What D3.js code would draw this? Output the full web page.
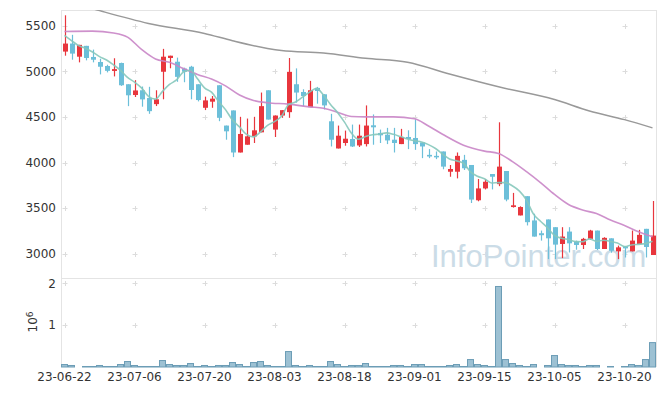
<!DOCTYPE html>
<html>
<head>
<meta charset="utf-8">
<script src="https://cdn.jsdelivr.net/npm/d3@7/dist/d3.min.js"></script>
<style>
body { margin: 0; background: #fff; }
svg { display: block; }
</style>
</head>
<body>
<svg id="chart" width="665" height="396"></svg>
<script>
// trading days
var dates = ["23-06-22","23-06-23","23-06-26","23-06-27","23-06-28","23-06-29","23-06-30",
  "23-07-03","23-07-04","23-07-05","23-07-06","23-07-07","23-07-10","23-07-11","23-07-12","23-07-13","23-07-14",
  "23-07-17","23-07-18","23-07-19","23-07-20","23-07-21","23-07-24","23-07-25","23-07-26","23-07-27","23-07-28","23-07-31",
  "23-08-01","23-08-02","23-08-03","23-08-04","23-08-07","23-08-08","23-08-09","23-08-10","23-08-11",
  "23-08-14","23-08-16","23-08-17","23-08-18","23-08-21","23-08-22","23-08-23","23-08-24","23-08-25",
  "23-08-28","23-08-29","23-08-30","23-08-31","23-09-01","23-09-04","23-09-05","23-09-06","23-09-07","23-09-08",
  "23-09-11","23-09-12","23-09-13","23-09-14","23-09-15","23-09-18","23-09-19","23-09-20","23-09-21","23-09-22",
  "23-09-25","23-09-26","23-09-27","23-10-04","23-10-05","23-10-06","23-10-10","23-10-11","23-10-12","23-10-13",
  "23-10-16","23-10-17","23-10-18","23-10-19","23-10-20","23-10-23","23-10-24","23-10-25","23-10-26"];

var opens = [5216, 5304, 5160, 5279, 5157, 5102, 5058, 5004, 5091, 4858,
  4740, 4792, 4707, 4640, 4995, 5146, 5105, 5030, 5050, 4858,
  4600, 4667, 4847, 4405, 4571, 4110, 4195, 4287, 4331, 4792,
  4361, 4515, 4552, 4858, 4773, 4607, 4818, 4748, 4452, 4154,
  4214, 4258, 4187, 4202, 4408, 4324, 4305, 4250, 4202, 4280,
  4269, 4220, 4084, 4073, 4121, 3899, 3899, 4029, 3973, 3586,
  3716, 3874, 3763, 3907, 3512, 3420, 3631, 3365, 3225, 3376,
  3291, 3107, 3243, 3133, 3096, 3163, 3254, 3052, 3169, 3026,
  3081, 3026, 3107, 3273, 2986];

var highs = [5614, 5400, 5290, 5279, 5238, 5138, 5072, 5143, 5095, 4858,
  4903, 4833, 4830, 4792, 5246, 5171, 5150, 5040, 5060, 4858,
  4722, 4729, 4847, 4405, 4571, 4501, 4482, 4501, 4767, 4792,
  4515, 4574, 5146, 5032, 4803, 4895, 4829, 4748, 4534, 4405,
  4350, 4416, 4416, 4626, 4527, 4361, 4380, 4380, 4369, 4353,
  4471, 4220, 4147, 4121, 4121, 3973, 4110, 4084, 3973, 3819,
  3819, 3874, 4441, 3907, 3667, 3520, 3631, 3439, 3254, 3376,
  3291, 3291, 3291, 3144, 3174, 3262, 3254, 3181, 3169, 3089,
  3081, 3254, 3262, 3273, 3578];

var lows = [5171, 5127, 5098, 5120, 5098, 4966, 4988, 4944, 4840, 4618,
  4718, 4612, 4534, 4619, 4693, 5033, 4885, 4880, 4693, 4670,
  4575, 4600, 4453, 4250, 4059, 4110, 4195, 4214, 4331, 4471,
  4280, 4490, 4490, 4656, 4618, 4607, 4645, 4582, 4176, 4154,
  4184, 4170, 4170, 4176, 4195, 4214, 4202, 4110, 4202, 4147,
  4139, 4048, 4048, 4037, 3926, 3844, 3826, 3918, 3556, 3575,
  3705, 3705, 3741, 3575, 3506, 3420, 3310, 3188, 3144, 2941,
  2941, 2952, 3014, 3044, 3052, 3152, 3041, 3052, 3011, 2941,
  2959, 3026, 3107, 2959, 2986];

var closes = [5304, 5194, 5290, 5146, 5127, 5050, 5005, 5024, 4847, 4737,
  4790, 4692, 4563, 4693, 5160, 5171, 4939, 4995, 4795, 4685,
  4681, 4700, 4490, 4342, 4110, 4313, 4287, 4353, 4618, 4471,
  4515, 4574, 4994, 4767, 4729, 4792, 4784, 4626, 4250, 4294,
  4261, 4176, 4294, 4405, 4386, 4298, 4242, 4214, 4280, 4258,
  4202, 4176, 4066, 4066, 3955, 3929, 4073, 3937, 3594, 3716,
  3789, 3844, 3955, 3594, 3531, 3512, 3346, 3188, 3203, 3169,
  3100, 3188, 3114, 3096, 3163, 3254, 3052, 3174, 3033, 3070,
  3059, 3144, 3207, 3074, 3199];

var volumes = [71000, 48000, 8000, 24000, 24000, 48000, 24000, 24000, 71000, 143000,
  48000, 24000, 24000, 24000, 167000, 71000, 48000, 48000, 95000, 24000,
  48000, 24000, 48000, 48000, 119000, 71000, 24000, 119000, 143000, 48000,
  24000, 24000, 381000, 48000, 24000, 48000, 24000, 24000, 143000, 71000,
  24000, 48000, 48000, 95000, 24000, 24000, 24000, 48000, 48000, 24000,
  71000, 71000, 24000, 24000, 24000, 48000, 71000, 24000, 190000, 71000,
  48000, 24000, 1936000, 190000, 95000, 48000, 24000, 71000, 8000, 48000,
  286000, 71000, 48000, 48000, 24000, 48000, 48000, 8000, 24000, 8000,
  24000, 71000, 48000, 190000, 595000];

// moving averages
var ma5 = [5393, 5337, 5282, 5253, 5212, 5161, 5124, 5070, 5011, 4933,
  4881, 4818, 4726, 4695, 4780, 4856, 4905, 4992, 5012, 4917,
  4819, 4771, 4670, 4580, 4465, 4391, 4308, 4281, 4336, 4408,
  4449, 4506, 4634, 4664, 4716, 4771, 4813, 4740, 4636, 4549,
  4443, 4321, 4255, 4286, 4304, 4312, 4325, 4309, 4284, 4258,
  4239, 4226, 4196, 4154, 4093, 4038, 4018, 3992, 3898, 3850,
  3822, 3776, 3780, 3780, 3743, 3687, 3588, 3434, 3356, 3284,
  3201, 3170, 3155, 3133, 3132, 3163, 3136, 3148, 3135, 3117,
  3078, 3096, 3103, 3111, 3137];

var ma20Idx = [0, 4, 7, 9, 11, 13, 15, 17, 19, 21, 23, 25, 27, 29, 32, 35, 37, 39, 41, 43,
  47, 50, 52, 54, 57, 60, 62, 64, 66, 68, 70, 72, 74, 76, 78, 80, 82, 84];
var ma20 = [5437, 5440, 5420, 5375, 5240, 5135, 5098, 5030, 4965, 4915, 4840, 4740, 4680, 4656, 4640, 4610, 4595, 4552, 4505, 4500,
  4500, 4480, 4400, 4310, 4190, 4125, 4100, 4010, 3900, 3780, 3650, 3540, 3480, 3440, 3370, 3310, 3240, 3185];

var ma60Idx = [0, 5, 12, 20, 24, 29, 31, 37, 43, 49, 55, 62, 70, 75, 80, 84];
var ma60 = [5775, 5665, 5525, 5415, 5335, 5250, 5227, 5200, 5143, 5098, 4970, 4830, 4690, 4565, 4470, 4380];

var priceTicks = [3000, 3500, 4000, 4500, 5000, 5500];
var volTicks = [1e6, 2e6];
var tickDates = ["23-06-22","23-07-06","23-07-20","23-08-03","23-08-18","23-09-01","23-09-15","23-10-05","23-10-20"];

var svg = d3.select("#chart");
var plotLeft = 61, plotRight = 656, plotTop = 10, plotMid = 278, plotBottom = 367;
var upColor = "#e8363d", downColor = "#6cbfd9";
var font = "'DejaVu Sans', Verdana, sans-serif";

var xScale = d3.scaleBand().domain(dates).range([plotLeft, plotRight]);
var cx = function(i) { return xScale(dates[i]) + xScale.bandwidth() / 2; };

var yScale = d3.scaleLinear().domain([2734, 5672]).range([plotMid, plotTop]);
var vScale = d3.scaleLinear().domain([0, 2.127e6]).range([plotBottom, plotMid]);

svg.append("defs").append("clipPath").attr("id", "clipMain")
  .append("rect").attr("x", plotLeft).attr("y", plotTop)
  .attr("width", plotRight - plotLeft).attr("height", plotMid - plotTop);

// frame
var frame = svg.append("g").attr("stroke", "#e4e4e4").attr("stroke-width", 1);
frame.append("line").attr("x1", plotLeft).attr("x2", plotRight).attr("y1", plotTop + 0.5).attr("y2", plotTop + 0.5);
frame.append("line").attr("x1", plotLeft).attr("x2", plotRight).attr("y1", plotMid + 0.5).attr("y2", plotMid + 0.5);
frame.append("line").attr("x1", plotLeft + 0.5).attr("x2", plotLeft + 0.5).attr("y1", plotTop).attr("y2", plotBottom);
frame.append("line").attr("x1", plotRight + 0.5).attr("x2", plotRight + 0.5).attr("y1", plotTop).attr("y2", plotBottom);

// "+" grid marks at tick crossings
var crossY = priceTicks.map(function(d) { return yScale(d); })
  .concat(volTicks.map(function(d) { return vScale(d); }));
var crosses = [];
tickDates.forEach(function(d) {
  crossY.forEach(function(y) { crosses.push({x: xScale(d) + xScale.bandwidth() / 2, y: y}); });
});
var cross = svg.append("g").selectAll(".cross").data(crosses).enter().append("g")
  .attr("class", "cross")
  .attr("transform", function(d) { return "translate(" + Math.round(d.x) + "," + Math.round(d.y) + ")"; })
  .attr("stroke", "#dcdcdc").attr("stroke-width", 1);
cross.append("line").attr("x1", -2.5).attr("x2", 2.5).attr("y1", 0.5).attr("y2", 0.5);
cross.append("line").attr("x1", 0.5).attr("x2", 0.5).attr("y1", -2).attr("y2", 3);

// watermark
svg.append("text")
  .attr("x", 431).attr("y", 267)
  .style("font-family", "'Liberation Sans', Arial, sans-serif")
  .style("font-size", "31px")
  .style("fill", "#cbdce7")
  .text("InfoPointer.com");

// y axis labels
svg.append("g").selectAll("text").data(priceTicks).enter().append("text")
  .attr("x", 56).attr("y", function(d) { return yScale(d); })
  .attr("dy", "0.36em")
  .style("text-anchor", "end")
  .style("font-family", font).style("font-size", "12px").style("fill", "#333")
  .text(function(d) { return d; });

svg.append("g").selectAll("text").data(volTicks).enter().append("text")
  .attr("x", 56).attr("y", function(d) { return vScale(d); })
  .attr("dy", "0.36em")
  .style("text-anchor", "end")
  .style("font-family", font).style("font-size", "12px").style("fill", "#333")
  .text(function(d) { return d / 1e6; });

var unit = svg.append("text")
  .attr("transform", "translate(37,322) rotate(-90)")
  .style("text-anchor", "middle")
  .style("font-family", font).style("font-size", "12px").style("fill", "#333");
unit.append("tspan").text("10");
unit.append("tspan").attr("dy", "-0.5em").style("font-size", "9px").text("6");

// x axis labels
svg.append("g").selectAll("text").data(tickDates).enter().append("text")
  .attr("x", function(d) { return xScale(d) + xScale.bandwidth() / 2; })
  .attr("y", 381)
  .style("text-anchor", "middle")
  .style("font-family", font).style("font-size", "12px").style("fill", "#333")
  .text(function(d) { return d; });

// volume bars
svg.append("g").selectAll(".vol").data(volumes).enter().append("rect")
  .attr("class", "vol")
  .attr("x", function(d, i) { return xScale(dates[i]) + 0.5; })
  .attr("y", function(d) { return vScale(d) + 0.5; })
  .attr("width", xScale.bandwidth() - 1)
  .attr("height", function(d) { return Math.max(0, plotBottom - vScale(d) - 0.5); })
  .style("fill", "#9dc1d3")
  .style("stroke", "#6c9db6")
  .style("stroke-width", 1);

// candles
var candles = svg.append("g").attr("clip-path", "url(#clipMain)")
  .selectAll(".candle").data(dates).enter().append("g").attr("class", "candle");

var colorOf = function(i) { return closes[i] >= opens[i] ? upColor : downColor; };

candles.append("line")
  .attr("x1", function(d, i) { return Math.round(cx(i)) + 0.5; })
  .attr("x2", function(d, i) { return Math.round(cx(i)) + 0.5; })
  .attr("y1", function(d, i) { return yScale(highs[i]); })
  .attr("y2", function(d, i) { return yScale(lows[i]); })
  .style("stroke", function(d, i) { return colorOf(i); })
  .style("stroke-width", 1.2);

candles.append("rect")
  .attr("x", function(d, i) { return Math.round(cx(i)) - 2; })
  .attr("y", function(d, i) { return yScale(Math.max(opens[i], closes[i])); })
  .attr("width", 5)
  .attr("height", function(d, i) { return Math.max(1.5, Math.abs(yScale(opens[i]) - yScale(closes[i]))); })
  .style("fill", function(d, i) { return colorOf(i); });

// moving average lines
var lines = svg.append("g").attr("clip-path", "url(#clipMain)").style("fill", "none");

var maLine = d3.line()
  .x(function(d) { return cx(d[0]); })
  .y(function(d) { return yScale(d[1]); })
  .curve(d3.curveMonotoneX);

lines.append("path")
  .attr("d", maLine(ma60Idx.map(function(d, i) { return [d, ma60[i]]; })))
  .style("stroke", "#999").style("stroke-width", 1.5);

lines.append("path")
  .attr("d", maLine(ma20Idx.map(function(d, i) { return [d, ma20[i]]; })))
  .style("stroke", "#c985c6").style("stroke-width", 1.6).style("opacity", 0.9);

lines.append("path")
  .attr("d", maLine(ma5.map(function(d, i) { return [i, d]; })))
  .style("stroke", "#86c8bb").style("stroke-width", 1.6).style("opacity", 0.9);
</script>
</body>
</html>
